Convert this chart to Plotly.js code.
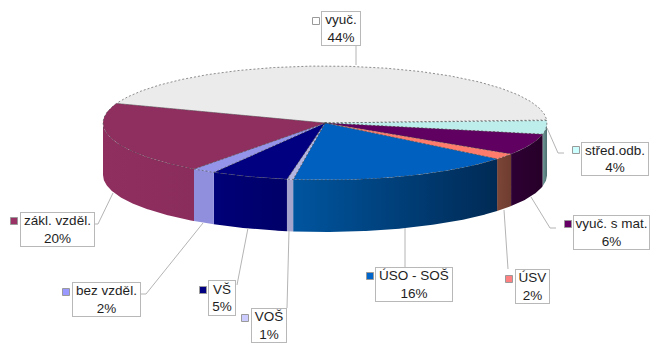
<!DOCTYPE html>
<html>
<head>
<meta charset="utf-8">
<script src="https://cdn.plot.ly/plotly-3.0.1.min.js"></script>
<style>html,body{margin:0;padding:0;background:#fff}#c{width:650px;height:343px}</style>
</head>
<body>
<div id="c"></div>
<script>
// Data (clockwise from the back-left of the pie)
const categories = ['vyuč.', 'střed.odb.', 'vyuč. s mat.', 'ÚSV', 'ÚSO - SOŠ', 'VOŠ', 'VŠ', 'bez vzděl.', 'zákl. vzděl.'];
const shares = [43.6, 4, 6, 1.7, 16.4, 0.45, 5.6, 1.7, 20.5];
const percentLabels = ['44%', '4%', '6%', '2%', '16%', '1%', '5%', '2%', '20%'];

// Styles
const topColors = ['#EBEBEB', '#BDEEEC', '#600060', '#FF7C6C', '#0060C0', '#B4B4E0', '#000080', '#9494EA', '#8F2F60'];
const wallLeft = ['#EBEBEB', '#6F9A98', '#2E0034', '#7C4636', '#00559F', '#A4A4CC', '#000078', '#8F8FDD', '#8F2F60'];
const wallRight = ['#EBEBEB', '#4E6E6E', '#260028', '#6E3C30', '#002A55', '#A4A4CC', '#000068', '#8F8FDD', '#8A2C5C'];
const keyColors = ['#FFFFFF', '#CCFFFF', '#660066', '#FF8080', '#0066CC', '#CCCCFF', '#000080', '#9999FF', '#993366'];

// Pie geometry in pixel-scaled axes
const cx = 325, cy = 123, rx = 222, ry = 57, depth = 52, startDeg = 160;

// Label placement: [left, right, top, bottom, keyX, keyY]
const boxes = [
  [321, 361, 11, 46, 316, 21],
  [581, 649, 142, 176, 576, 150],
  [573, 650, 215, 250, 568, 224],
  [515, 550, 269, 304, 509, 279],
  [375, 453, 267, 302, 370, 276],
  [251, 287, 308, 343, 245, 318],
  [208, 236, 280, 316, 203, 290],
  [72, 141, 282, 317, 66, 292],
  [20, 95, 212, 247, 14, 221]
];
const leaderX = [[356,356],[547,558,564],[531,550,556],[504,508],[405,405],[289,287],[248,237],[203,146,141],[113,98,95]];
const leaderY = [[46,65],[128,153,153],[197,228,228],[210,269],[228,267],[231,308],[228,285],[223,294,294],[193,224,224]];

const pt = (deg, dy) => [cx + rx * Math.cos(deg * Math.PI / 180), cy - ry * Math.sin(deg * Math.PI / 180) + (dy || 0)];
function arc(a, b, dy) {
  const n = Math.max(2, Math.ceil(Math.abs(a - b) * 2)), out = [];
  for (let i = 0; i <= n; i++) out.push(pt(a + (b - a) * i / n, dy));
  return out;
}

const total = shares.reduce((s, v) => s + v, 0);
let angle = startDeg;
const slices = shares.map(v => { const a = angle; angle -= v / total * 360; return [a, angle]; });

const traces = [];
// Walls: only the front half (angles 0 to -180) is visible
slices.forEach((s, i) => {
  const a = Math.min(s[0], 0), b = Math.max(s[1], -180);
  if (a <= b) return;
  const top = arc(a, b, 0), bot = arc(b, a, depth), poly = top.concat(bot);
  poly.push(poly[0]);
  traces.push({
    type: 'scatter', mode: 'lines', hoverinfo: 'skip', showlegend: false,
    x: poly.map(p => p[0]), y: poly.map(p => p[1]),
    fill: 'toself', line: {width: 0, color: wallLeft[i]},
    fillcolor: wallLeft[i],
    fillgradient: {type: 'horizontal', colorscale: [[0, wallLeft[i]], [1, wallRight[i]]]}
  });
});
// Top faces
slices.forEach((s, i) => {
  const poly = [[cx, cy]].concat(arc(s[0], s[1], 0));
  poly.push([cx, cy]);
  traces.push({
    type: 'scatter', mode: 'lines', hoverinfo: 'skip', showlegend: false,
    name: categories[i],
    x: poly.map(p => p[0]), y: poly.map(p => p[1]),
    fill: 'toself', fillcolor: topColors[i],
    line: {width: 0.6, color: '#444444', dash: '2px,2px'}
  });
});
// Leader lines
categories.forEach((c, i) => traces.push({
  type: 'scatter', mode: 'lines', hoverinfo: 'skip', showlegend: false,
  x: leaderX[i], y: leaderY[i], line: {width: 1, color: '#B4B4B4'}
}));
// Legend keys
traces.push({
  type: 'scatter', mode: 'markers', hoverinfo: 'skip', showlegend: false,
  x: boxes.map(b => b[4]), y: boxes.map(b => b[5]),
  marker: {symbol: 'square', size: 7, color: keyColors, line: {width: 1, color: '#9a9a9a'}}
});

const annotations = categories.map((c, i) => {
  const b = boxes[i];
  return {
    xref: 'x', yref: 'y', x: (b[0] + b[1]) / 2, y: (b[2] + b[3]) / 2,
    xanchor: 'center', yanchor: 'middle', showarrow: false,
    width: b[1] - b[0] - 2, height: b[3] - b[2] - 2,
    text: c + '<br>' + percentLabels[i], align: 'center', valign: 'middle',
    bgcolor: '#FFFFFF', bordercolor: '#B8B8B8', borderwidth: 1, borderpad: 0,
    font: {family: 'Liberation Sans, Arial, sans-serif', size: 13.5, color: '#1e1e1e'}
  };
});

Plotly.newPlot('c', traces, {
  width: 650, height: 343,
  margin: {l: 0, r: 0, t: 0, b: 0},
  paper_bgcolor: '#fff', plot_bgcolor: '#fff',
  xaxis: {range: [0, 650], visible: false, fixedrange: true},
  yaxis: {range: [343, 0], visible: false, fixedrange: true},
  showlegend: false,
  annotations: annotations
}, {displayModeBar: false, staticPlot: true});
</script>
</body>
</html>
